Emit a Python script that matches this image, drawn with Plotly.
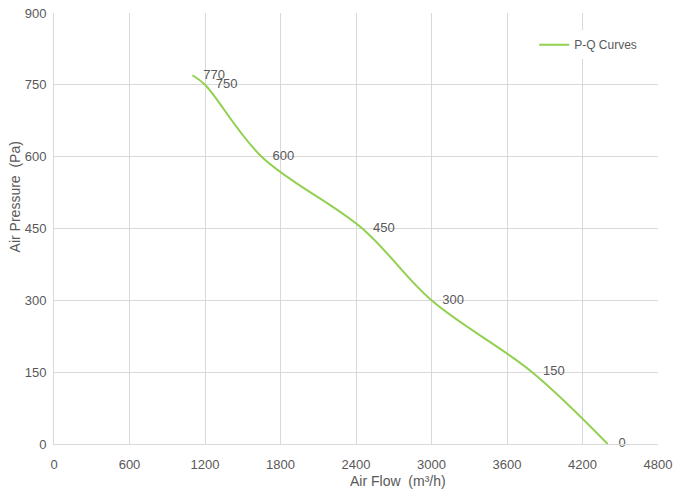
import plotly.graph_objects as go

# P-Q curve points
air_flow = [1100, 1200, 1650, 2450, 3000, 3800, 4400]
air_pressure = [770, 750, 600, 450, 300, 150, 0]
point_labels = ['770', '750', '600', '450', '300', '150', '0']

x_ticks = [0, 600, 1200, 1800, 2400, 3000, 3600, 4200, 4800]
y_ticks = [0, 150, 300, 450, 600, 750, 900]

grey_text = '#595959'
grid_col = '#d9d9d9'
font_family = 'Liberation Sans, Arial, sans-serif'

fig = go.Figure()

fig.add_trace(go.Scatter(
    x=air_flow, y=air_pressure,
    mode='lines+text',
    name='P-Q Curves',
    line=dict(color='#92d050', width=2, shape='spline', smoothing=1),
    text=['\u00a0\u00a0\u00a0' + t for t in point_labels],
    textposition='middle right',
    textfont=dict(size=13, color=grey_text, family=font_family),
    cliponaxis=False,
))

# page body adds an 8px offset, so the figure is a bit smaller than the window
fig.update_layout(
    width=674,
    height=485,
    margin=dict(l=46, r=24, t=5, b=49),
    plot_bgcolor='white',
    paper_bgcolor='white',
    font=dict(family=font_family, color=grey_text, size=13),
    showlegend=True,
    legend=dict(
        x=0.795, y=0.96, xanchor='left', yanchor='top',
        bgcolor='white', borderwidth=0,
        font=dict(size=12, color=grey_text),
        itemwidth=30,
    ),
    xaxis=dict(
        range=[0, 4800], tickvals=x_ticks, showgrid=True, gridcolor=grid_col,
        showline=True, linecolor=grid_col, linewidth=1, zeroline=False,
        ticklabelstandoff=8, tickfont=dict(size=13, color=grey_text),
        automargin=False, ticklabeloverflow='allow',
    ),
    yaxis=dict(
        range=[0, 900], tickvals=y_ticks, showgrid=True, gridcolor=grid_col,
        showline=True, linecolor=grid_col, linewidth=1, zeroline=False,
        ticklabelstandoff=4, tickfont=dict(size=13, color=grey_text),
        automargin=False, ticklabeloverflow='allow',
    ),
    annotations=[
        dict(text='Air Flow  (m³/h)', xref='paper', yref='paper', x=0.57, y=-0.085,
             xanchor='center', yanchor='middle', showarrow=False,
             font=dict(size=14, color=grey_text)),
        dict(text='Air Pressure  (Pa)', xref='paper', yref='paper', x=-0.064, y=0.573,
             xanchor='center', yanchor='middle', showarrow=False, textangle=-90,
             font=dict(size=14, color=grey_text)),
    ],
)

fig.write_html('out.html')
